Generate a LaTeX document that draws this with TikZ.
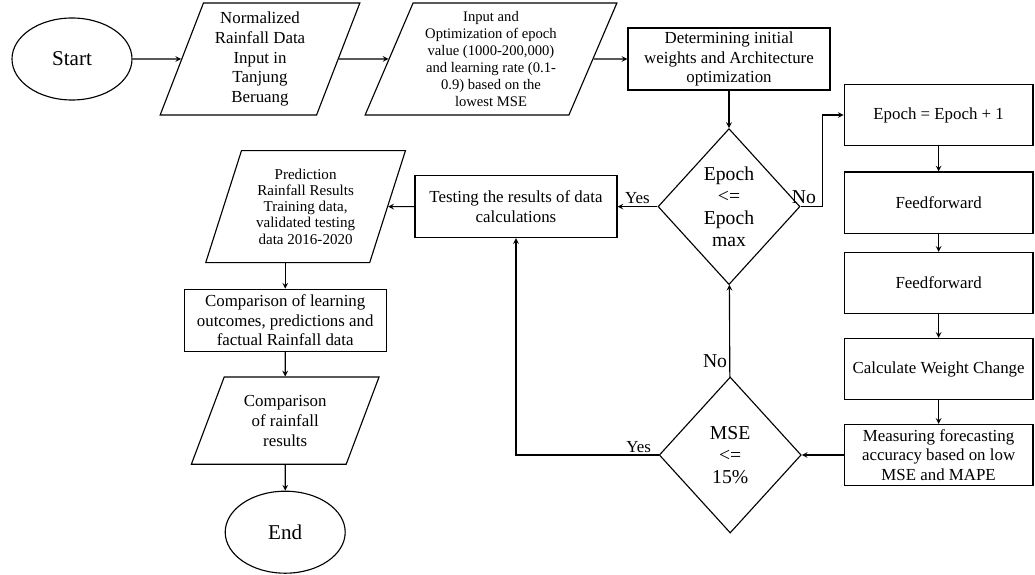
\documentclass[tikz,border=0pt]{standalone}
\usepackage{fontspec}
\setmainfont{Liberation Serif}
\usetikzlibrary{shapes.geometric,arrows}
\tikzstyle{startstop} = [ellipse, minimum width = 3cm, minimum height = 2.05cm, text centered, draw = black, line width = 0.8pt, font = \fontsize{15}{17}\selectfont]
\tikzstyle{io} = [trapezium, trapezium left angle = 70, trapezium right angle = 110, trapezium stretches = true, minimum width = 5cm, minimum height = 2.8cm, text centered, align = center, inner sep = 1pt, draw = black, line width = 0.8pt, font = \fontsize{12}{14.2}\selectfont]
\tikzstyle{process} = [rectangle, minimum width = 5.05cm, minimum height = 1.55cm, text centered, align = center, inner sep = 2pt, draw = black, line width = 0.8pt, font = \fontsize{12}{14}\selectfont]
\tikzstyle{stepbox} = [process, minimum width = 4.72cm, minimum height = 1.53cm]
\tikzstyle{decision} = [diamond, minimum width = 3.55cm, minimum height = 3.9cm, inner sep = 0pt, text centered, align = center, draw = black, line width = 0.8pt, font = \fontsize{14}{15.5}\selectfont]
\tikzstyle{answer} = [inner sep = 1.5pt, font = \fontsize{12}{14}\selectfont]
\tikzstyle{arrow} = [line width = 0.8pt,->,>=stealth]

\begin{document}
\begin{tikzpicture}[node distance = 2cm]
	\useasboundingbox (-1.8,1.475) rectangle (24.075,-12.875);
	
	\node[startstop](start){Start};
	\node[io,right of =start,xshift = 2.7cm](input 1){Normalized\\Rainfall Data\\Input in\\Tanjung\\Beruang};
	\node[io,right of =input 1,xshift = 3.775cm,trapezium left angle = 67,trapezium right angle = 113,minimum width = 6.3cm,font = \fontsize{10.4}{12}\selectfont](input 2){Input and\\Optimization of epoch\\value (1000-200,000)\\and learning rate (0.1-\\0.9) based on the\\lowest MSE};
	\node[process,right of =input 2,xshift = 3.95cm](init){Determining initial\\weights and Architecture\\optimization};
	\node[decision,below of =init,yshift = -1.69cm](check epoch){Epoch\\<=\\Epoch\\max};
	\node[stepbox,right of =init,xshift = 3.24cm,yshift = -1.4cm](update){Epoch = Epoch + 1};
	\node[stepbox,below of =update,yshift = -0.19cm](ff 1){Feedforward};
	\node[stepbox,below of =ff 1,yshift = -0.01cm](ff 2){Feedforward};
	\node[stepbox,below of =ff 2,yshift = -0.15cm](weights){Calculate Weight Change};
	\node[stepbox,below of =weights,yshift = -0.15cm](accuracy){Measuring forecasting\\accuracy based on low\\MSE and MAPE};
	\node[decision,left of =accuracy,xshift = -3.21cm](check mse){MSE\\<=\\15\%};
	\node[process,left of =check epoch,xshift = -3.325cm](testing){Testing the results of data\\calculations};
	\node[io,left of =testing,xshift = -3.26cm,font = \fontsize{10.7}{11.5}\selectfont](prediction){Prediction\\Rainfall Results\\Training data,\\validated testing\\data 2016-2020};
	\node[process,below of =prediction,xshift = -0.51cm,yshift = -0.84cm](comparison){Comparison of learning\\outcomes, predictions and\\factual Rainfall data};
	\node[io,below of =comparison,yshift = -0.51cm,trapezium left angle = 67,trapezium right angle = 113,minimum width = 4.7cm,minimum height = 2.18cm](result){Comparison\\of rainfall\\results};
	\node[startstop,below of =result,yshift = -0.79cm](stop){End};
	
	\draw [arrow](start)--(input 1);
	\draw [arrow](input 1)--(input 2);
	\draw [arrow](input 2)--(init);
	\draw [arrow](init)--(check epoch);
	\draw [arrow](check epoch.east)--node[answer,above,pos = 0.15,font = \fontsize{14}{16}\selectfont]{No}++(0.55,0)|-(update);
	\draw [arrow](update)--(ff 1);
	\draw [arrow](ff 1)--(ff 2);
	\draw [arrow](ff 2)--(weights);
	\draw [arrow](weights)--(accuracy);
	\draw [arrow](accuracy)--(check mse);
	\draw [arrow](check mse)--node[answer,left,pos = 0.17,font = \fontsize{14}{16}\selectfont]{No}(check epoch);
	\draw [arrow](check mse.west)-|node[answer,above,pos = 0.07]{Yes}(testing);
	\draw [arrow](check epoch)--node[answer,above]{Yes}(testing);
	\draw [arrow](testing)--(prediction);
	\draw [arrow](prediction.south -| comparison.north)--(comparison);
	\draw [arrow](comparison)--(result);
	\draw [arrow](result)--(stop);
	
\end{tikzpicture}
\end{document}
